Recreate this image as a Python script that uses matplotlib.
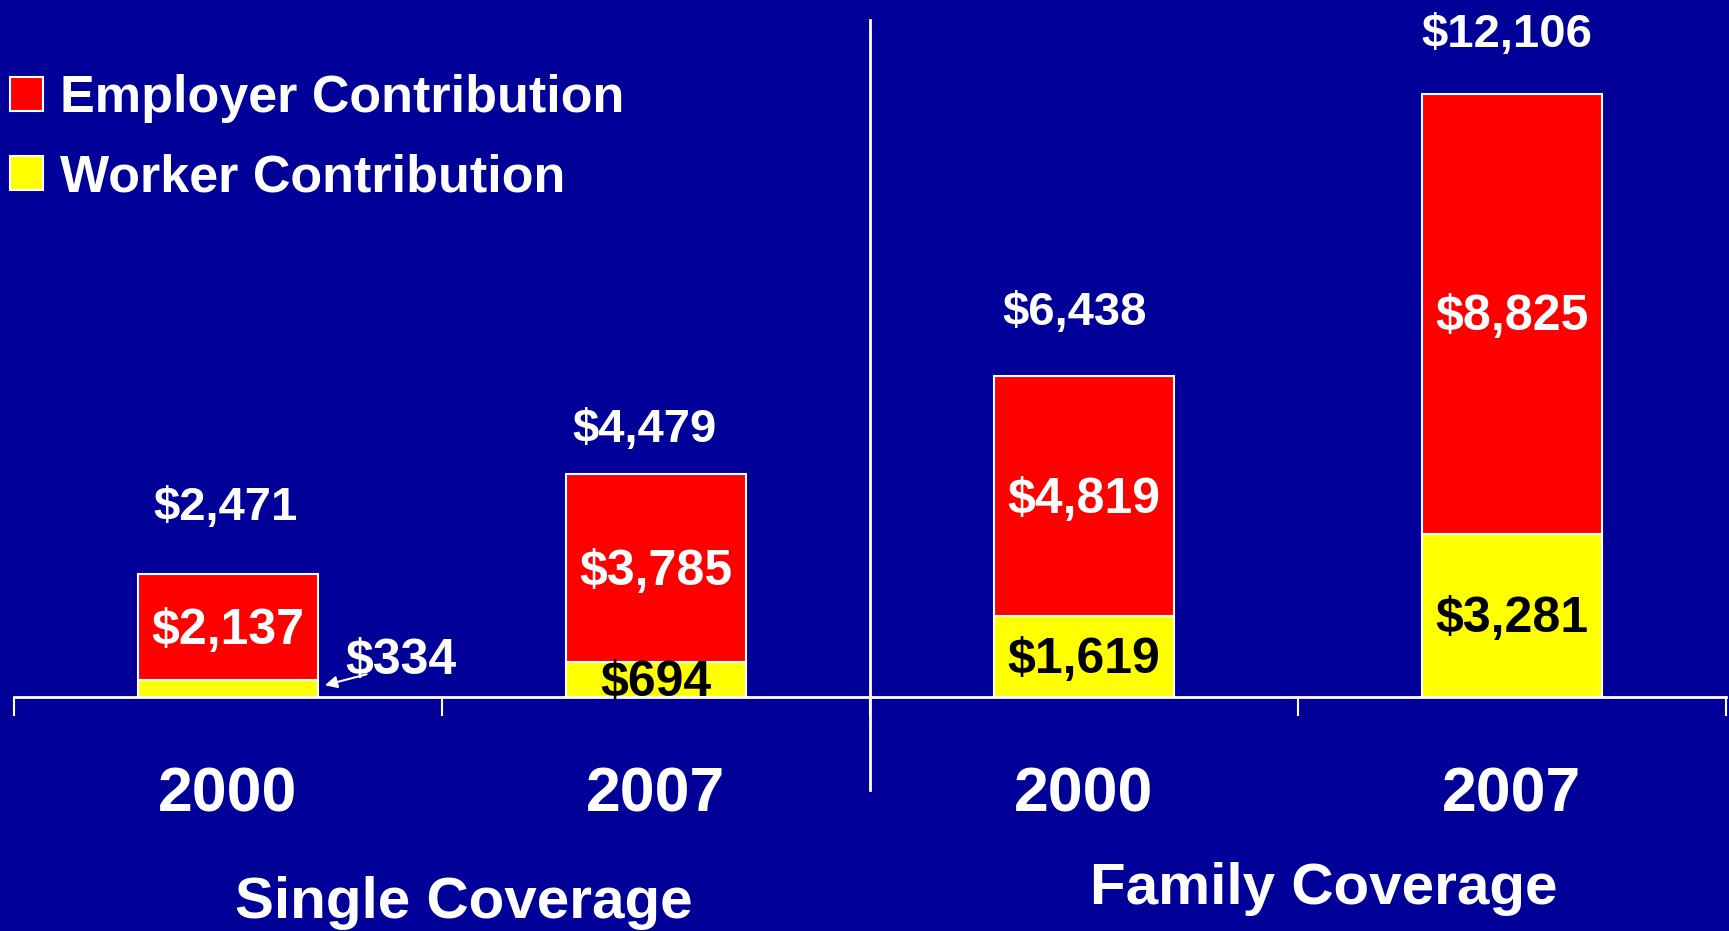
"""Employer and worker premium contributions, single vs family coverage."""

import matplotlib

matplotlib.use("Agg")
from matplotlib import pyplot
from matplotlib.patches import Patch
from matplotlib.transforms import ScaledTranslation

BG = "#000099"
RED = "#ff0000"
YELLOW = "#ffff00"

years = ["2000", "2007", "2000", "2007"]
groups = ["Single Coverage", "Family Coverage"]
employer = [2137, 3785, 4819, 8825]
worker = [334, 694, 1619, 3281]
totals = [2471, 4479, 6438, 12106]

# label nudges above each bar (points)
total_dx = [-1.5, -8.5, -6.5, -3.5]
total_dy = [50, 34, 48, 45]

pyplot.rcParams["font.family"] = ["Liberation Sans", "DejaVu Sans"]
pyplot.rcParams["font.weight"] = "bold"

fig = pyplot.figure(figsize=(17.29, 9.31), dpi=100, facecolor=BG)
ax = fig.add_axes([14 / 1729, 234 / 931, 1712 / 1729, 697 / 931])
ax.set_facecolor(BG)

# text sits a few pixels lower than matplotlib's bbox centre
down = ScaledTranslation(0, -0.035, fig.dpi_scale_trans)
data_t = ax.transData + down
xaxis_t = ax.get_xaxis_transform() + down

x = list(range(len(years)))
ax.bar(x, worker, width=0.42, color=YELLOW, edgecolor="white", linewidth=1.5,
       label="Worker Contribution")
ax.bar(x, employer, width=0.42, bottom=worker, color=RED, edgecolor="white",
       linewidth=1.5, label="Employer Contribution")

ax.set_xlim(-0.5, 3.5)
ax.set_ylim(0, 12106 * 697 / 603)

for s in ["top", "left", "right"]:
    ax.spines[s].set_visible(False)
ax.spines["bottom"].set_color("white")
ax.spines["bottom"].set_linewidth(2)
ax.set_yticks([])
ax.set_xticks([-0.5, 0.5, 1.5, 2.5, 3.5])
ax.set_xticklabels([])
ax.tick_params(axis="x", colors="white", length=14, width=1.5, direction="out")

# separator between single and family
ax.axvline(1.5, ymin=-0.133, ymax=0.971, color="white", linewidth=2, clip_on=False)

for i in x:
    ax.annotate(f"${totals[i]:,}", xy=(i, totals[i]), xytext=(total_dx[i], total_dy[i] - 2.5),
                textcoords="offset points", ha="center", va="center",
                fontsize=34, color="white")
    ax.text(i, worker[i] + employer[i] / 2, f"${employer[i]:,}", ha="center",
            va="center", fontsize=36, color="white", transform=data_t)
    if i > 0:
        ax.text(i, worker[i] / 2, f"${worker[i]:,}", ha="center", va="center",
                fontsize=36, color="black", transform=data_t)
    ax.text(i, -0.135, years[i], transform=xaxis_t, ha="center",
            va="center", fontsize=45, color="white")

# the single-coverage worker share is too thin to hold its label
ax.text(0.405, 783, f"${worker[0]:,}", ha="center", va="center", fontsize=36,
        color="white", transform=data_t)
ax.annotate("", xy=(0.22, 221), xytext=(0.33, 470),
            arrowprops=dict(arrowstyle="-|>", color="white", lw=1.5,
                            mutation_scale=18))

ax.text(0.55, -0.29, groups[0], transform=xaxis_t, ha="center",
        va="center", fontsize=42, color="white")
ax.text(2.56, -0.27, groups[1], transform=xaxis_t, ha="center",
        va="center", fontsize=42, color="white")

handles = [
    Patch(facecolor=RED, edgecolor="white", linewidth=1.5),
    Patch(facecolor=YELLOW, edgecolor="white", linewidth=1.5),
]
leg = fig.legend(handles, ["Employer Contribution", "Worker Contribution"],
                 loc="upper left", bbox_to_anchor=(0.0, 1 - 64 / 931),
                 frameon=False, fontsize=37.5, handlelength=0.63,
                 handleheight=0.63, handletextpad=0.33, labelspacing=0.58,
                 borderaxespad=0, borderpad=0.2)
for t in leg.get_texts():
    t.set_color("white")

fig.savefig("out.png", dpi=100, facecolor=BG)
